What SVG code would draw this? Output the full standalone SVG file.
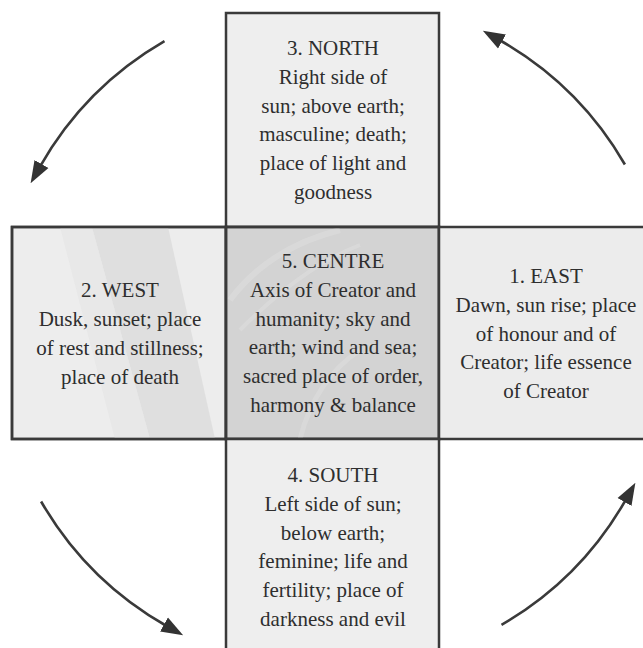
<svg xmlns="http://www.w3.org/2000/svg" width="643" height="648" viewBox="0 0 643 648">
<style>
.box{stroke:#3a3a3a;stroke-width:2.5}
.t{font-family:"Liberation Serif","Times New Roman",serif;font-size:21px;fill:#2e2e2e;text-anchor:middle}
.arc{fill:none;stroke:#3a3a3a;stroke-width:2.6}
</style>
<defs>
<marker id="ah" markerUnits="userSpaceOnUse" markerWidth="22" markerHeight="18" viewBox="0 0 22 18" refX="3" refY="9" orient="auto">
<path d="M0,1 L22,9 L0,17 z" fill="#333"/>
</marker>
<clipPath id="cw"><rect x="12" y="227" width="214" height="212"/></clipPath>
<clipPath id="cc"><rect x="226" y="227" width="213" height="212"/></clipPath>
</defs>
<rect width="643" height="648" fill="#fff"/>
<g id="north">
<rect class="box" x="226" y="13" width="213" height="214" fill="#eeeeee"/>
<text class="t" x="333" y="55">3. NORTH</text>
<text class="t" x="333" y="84">Right side of</text>
<text class="t" x="333" y="113">sun; above earth;</text>
<text class="t" x="333" y="141">masculine; death;</text>
<text class="t" x="333" y="170">place of light and</text>
<text class="t" x="333" y="199">goodness</text>
</g>
<g id="west">
<rect class="box" x="12" y="227" width="214" height="212" fill="#ededed"/>
<path clip-path="url(#cw)" d="M92,227 L168,227 L215,439 L150,439 Z" fill="#d9d9d9" opacity="0.7"/>
<path clip-path="url(#cw)" d="M60,227 L92,227 L150,439 L115,439 Z" fill="#e4e4e4" opacity="0.6"/>
<rect x="12" y="227" width="214" height="212" fill="none" class="box"/>
<text class="t" x="120" y="297">2. WEST</text>
<text class="t" x="120" y="326">Dusk, sunset; place</text>
<text class="t" x="120" y="355">of rest and stillness;</text>
<text class="t" x="120" y="384">place of death</text>
</g>
<g id="centre">
<rect class="box" x="226" y="227" width="213" height="212" fill="#d3d3d3"/>
<g clip-path="url(#cc)" fill="none" stroke="#e2e2e2" opacity="0.45">
<path d="M230,300 C260,260 300,240 340,230" stroke-width="6"/>
<path d="M240,330 C280,290 320,260 360,245" stroke-width="4"/>
<path d="M300,439 C310,400 330,370 360,350" stroke-width="5"/>
</g>
<rect x="226" y="227" width="213" height="212" fill="none" class="box"/>
<text class="t" x="333" y="268">5. CENTRE</text>
<text class="t" x="333" y="297">Axis of Creator and</text>
<text class="t" x="333" y="326">humanity; sky and</text>
<text class="t" x="333" y="354">earth; wind and sea;</text>
<text class="t" x="333" y="383">sacred place of order,</text>
<text class="t" x="333" y="412">harmony &amp; balance</text>
</g>
<g id="east">
<rect class="box" x="439" y="227" width="212" height="212" fill="#ececec"/>
<text class="t" x="546" y="283">1. EAST</text>
<text class="t" x="546" y="312">Dawn, sun rise; place</text>
<text class="t" x="546" y="341">of honour and of</text>
<text class="t" x="546" y="369">Creator; life essence</text>
<text class="t" x="546" y="398">of Creator</text>
</g>
<g id="south">
<rect class="box" x="226" y="439" width="213" height="220" fill="#eeeeee"/>
<text class="t" x="333" y="482">4. SOUTH</text>
<text class="t" x="333" y="511">Left side of sun;</text>
<text class="t" x="333" y="540">below earth;</text>
<text class="t" x="333" y="568">feminine; life and</text>
<text class="t" x="333" y="597">fertility; place of</text>
<text class="t" x="333" y="626">darkness and evil</text>
</g>
<g id="connectors">
<path class="arc" marker-end="url(#ah)" d="M624.9,164.5 A337,337 0 0 0 499.4,40"/>
<path class="arc" marker-end="url(#ah)" d="M624.9,164.5 A337,337 0 0 0 499.4,40" transform="rotate(-90 333 333)"/>
<path class="arc" marker-end="url(#ah)" d="M624.9,164.5 A337,337 0 0 0 499.4,40" transform="rotate(180 333 333)"/>
<path class="arc" marker-end="url(#ah)" d="M624.9,164.5 A337,337 0 0 0 499.4,40" transform="rotate(90 333 333)"/>
</g>
</svg>
